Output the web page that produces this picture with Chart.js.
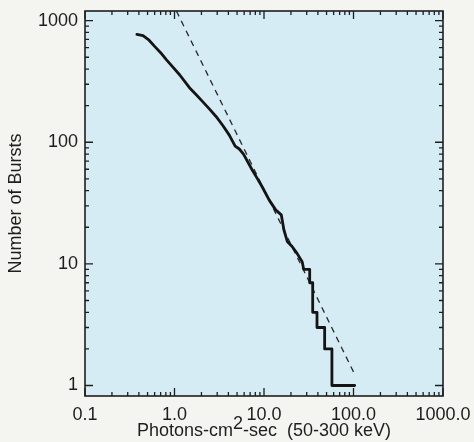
<!DOCTYPE html>
<html lang="en">
<head>
<meta charset="UTF-8">
<title>Burst peak flux distribution</title>
<style>
  html, body { margin: 0; padding: 0; background: #f4f4f1; }
  #wrap { width: 474px; height: 442px; }
</style>
</head>
<body>
<div id="wrap"><canvas id="chart" width="474" height="442"></canvas></div>
<script src="https://cdn.jsdelivr.net/npm/chart.js@4/dist/chart.umd.min.js"></script>
<script>
// cumulative counts N(>P); repeated x values are the vertical risers of the steps
const fluxValues  = [0.38, 0.445, 0.52, 0.60, 0.70, 0.81, 0.96, 1.14, 1.47, 1.75, 2.05, 2.45, 2.91, 3.45, 4.08, 4.76, 5.3, 5.9, 7.36, 8.4, 9.5, 11.4, 13.5, 15.6, 16.7, 18.2, 20.6, 23.4, 26.7, 27.8, 32.4, 32.4, 35.0, 35.0, 39.1, 39.1, 47.6, 47.6, 57.4, 57.4, 103];
const burstCounts = [770, 753, 690, 614, 545, 478, 415, 359, 281, 246, 217, 188, 163, 138, 115, 93, 88, 80, 59.4, 50.5, 43.3, 33.6, 27.8, 25.3, 19.0, 15.3, 13.9, 12.2, 10.4, 9, 9, 7, 7, 4, 4, 3, 3, 2, 2, 1, 1];

// the -3/2 power law drawn dashed
const fitFlux   = [1.05, 104];
const fitCounts = [1200, 1.22];

const xTicks      = [0.1, 1, 10, 100, 1000];
const xTickLabels = ['0.1', '1.0', '10.0', '100.0', '1000.0'];
const yTicks      = [1, 10, 100, 1000];
const yTickLabels = ['1', '10', '100', '1000'];

const FONT = '18px "Liberation Sans", Arial, Helvetica, sans-serif';
const INK = '#1e1e1e';

const frame = {
  id: 'frame',
  beforeDraw(chart) {
    const { ctx, chartArea: a } = chart;
    ctx.save();
    ctx.fillStyle = '#f4f4f1';
    ctx.fillRect(0, 0, chart.width, chart.height);
    ctx.fillStyle = '#d6ecf5';
    ctx.fillRect(a.left, a.top, a.right - a.left, a.bottom - a.top);
    ctx.restore();
  },
  afterDraw(chart) {
    const { ctx, chartArea: a, scales: { x, y } } = chart;
    ctx.save();
    ctx.strokeStyle = INK;
    ctx.lineWidth = 1.6;
    ctx.strokeRect(a.left, a.top, a.right - a.left, a.bottom - a.top);

    // inward ticks on all four sides
    ctx.lineWidth = 1.3;
    ctx.beginPath();
    const xMark = (v, len) => {
      const px = x.getPixelForValue(v);
      ctx.moveTo(px, a.bottom); ctx.lineTo(px, a.bottom - len);
      ctx.moveTo(px, a.top);    ctx.lineTo(px, a.top + len);
    };
    const yMark = (v, len) => {
      const py = y.getPixelForValue(v);
      ctx.moveTo(a.left, py);  ctx.lineTo(a.left + len, py);
      ctx.moveTo(a.right, py); ctx.lineTo(a.right - len, py);
    };
    xTicks.forEach(v => xMark(v, 8));
    xTicks.slice(0, -1).forEach(d => { for (let m = 2; m < 10; m++) xMark(d * m, 4); });
    yTicks.forEach(v => yMark(v, 8));
    yTicks.slice(0, -1).forEach(d => { for (let m = 2; m < 10; m++) yMark(d * m, 4); });
    ctx.stroke();

    // tick labels
    ctx.fillStyle = INK;
    ctx.font = FONT;
    ctx.textAlign = 'right';
    ctx.textBaseline = 'middle';
    yTicks.forEach((v, i) => ctx.fillText(yTickLabels[i], a.left - 7, y.getPixelForValue(v)));
    ctx.textAlign = 'center';
    xTicks.forEach((v, i) => ctx.fillText(xTickLabels[i], x.getPixelForValue(v), a.bottom + 19));

    // x title with raised 2
    ctx.textBaseline = 'alphabetic';
    ctx.textAlign = 'left';
    const p1 = 'Photons-cm', p2 = '2', p3 = '-sec  (50-300 keV)';
    const w = ctx.measureText(p1).width + ctx.measureText(p2).width + ctx.measureText(p3).width;
    let tx = (a.left + a.right) / 2 - w / 2;
    const ty = a.bottom + 40;
    ctx.fillText(p1, tx, ty); tx += ctx.measureText(p1).width;
    ctx.fillText(p2, tx, ty - 7); tx += ctx.measureText(p2).width;
    ctx.fillText(p3, tx, ty);

    // y title
    ctx.translate(16, (a.top + a.bottom) / 2);
    ctx.rotate(-Math.PI / 2);
    ctx.textAlign = 'center';
    ctx.textBaseline = 'middle';
    ctx.fillText('Number of Bursts', 0, 0);
    ctx.restore();
  }
};

new Chart(document.getElementById('chart'), {
  type: 'scatter',
  data: {
    datasets: [
      {
        data: fluxValues.map((v, i) => ({ x: v, y: burstCounts[i] })),
        showLine: true,
        borderColor: '#141414',
        borderWidth: 2.8,
        borderJoinStyle: 'round',
        borderCapStyle: 'round',
        pointRadius: 0,
        tension: 0
      },
      {
        data: fitFlux.map((v, i) => ({ x: v, y: fitCounts[i] })),
        showLine: true,
        borderColor: '#2a2a2a',
        borderWidth: 1.3,
        borderDash: [6, 5],
        pointRadius: 0
      }
    ]
  },
  options: {
    responsive: false,
    animation: false,
    devicePixelRatio: 1,
    events: [],
    layout: { padding: { left: 85, right: 31, top: 11, bottom: 46 } },
    plugins: { legend: { display: false }, tooltip: { enabled: false } },
    scales: {
      x: { type: 'logarithmic', min: 0.1, max: 1000, display: false },
      y: { type: 'logarithmic', min: 0.82, max: 1200, display: false }
    }
  },
  plugins: [frame]
});
</script>
</body>
</html>
